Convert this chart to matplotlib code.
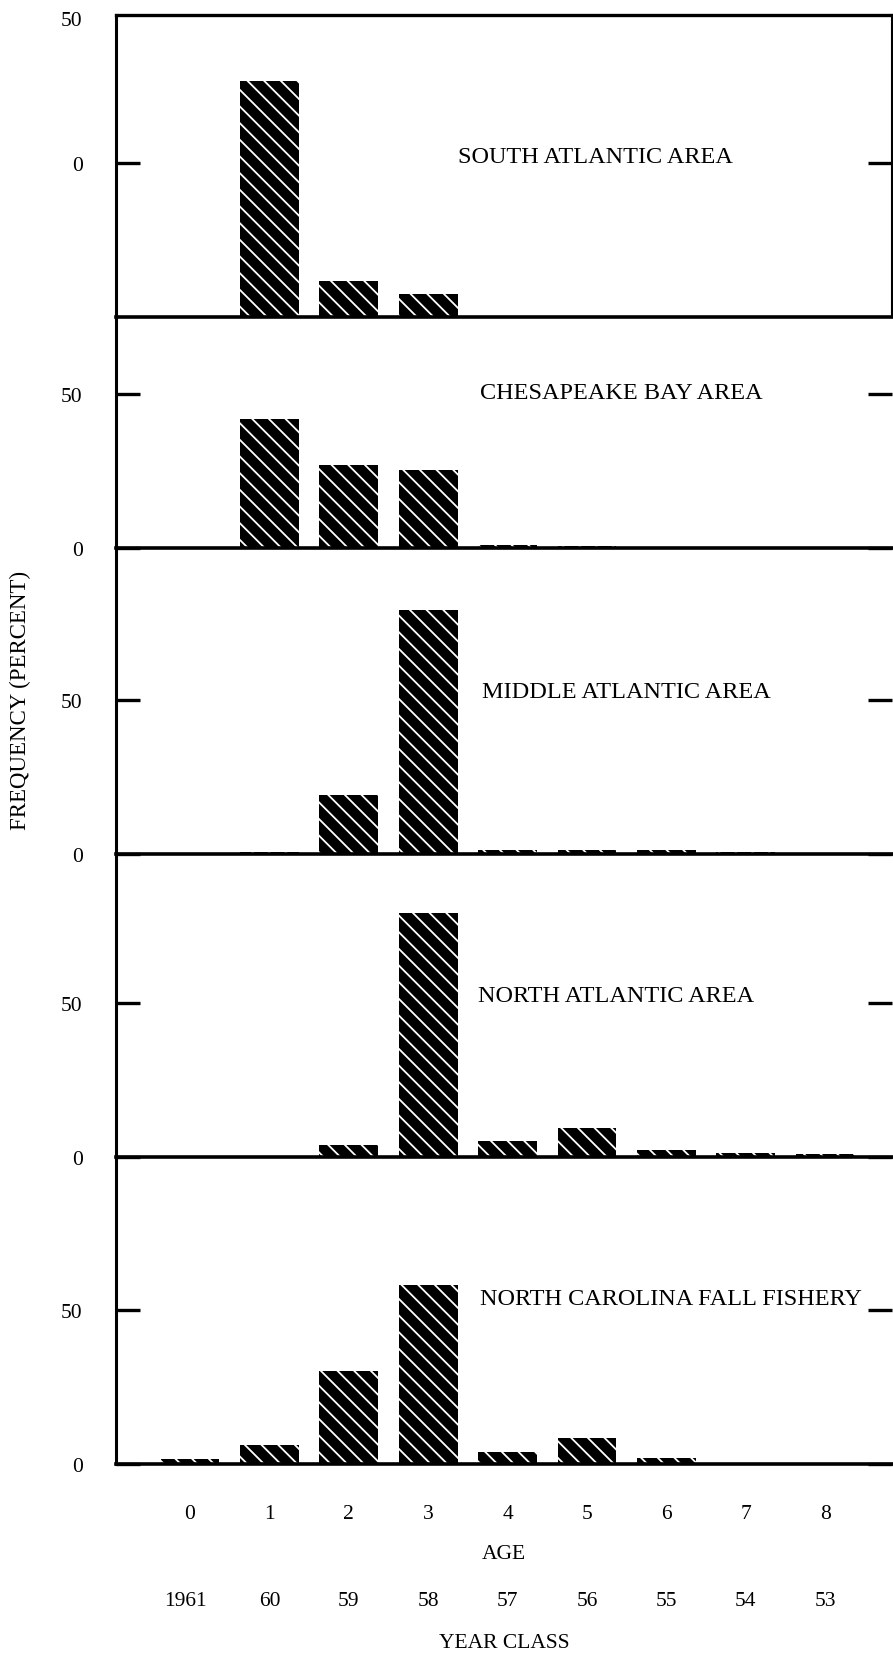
import matplotlib
matplotlib.use("Agg")
import matplotlib.pyplot as plt

# ---------------- data ----------------
ages = [0, 1, 2, 3, 4, 5, 6, 7, 8]
age_labels = ["0", "1", "2", "3", "4", "5", "6", "7", "8"]
year_class_labels = ["1961", "60", "59", "58", "57", "56", "55", "54", "53"]

area_names = ["SOUTH ATLANTIC AREA", "CHESAPEAKE BAY AREA", "MIDDLE ATLANTIC AREA",
              "NORTH ATLANTIC AREA", "NORTH CAROLINA FALL FISHERY"]

south_atlantic = [0, 76.6, 11.7, 7.6, 0, 0, 0, 0, 0]
chesapeake_bay = [0, 42.0, 27.0, 25.3, 1.0, 0.8, 0, 0, 0]
middle_atlantic = [0, 0.8, 19.3, 79.3, 1.2, 1.3, 1.2, 0.7, 0]
north_atlantic = [0, 0, 4.0, 79.2, 5.2, 9.5, 2.3, 1.3, 0.9]
nc_fall_fishery = [1.5, 6.3, 30.3, 58.0, 4.0, 8.3, 2.0, 0, 0]

series = [south_atlantic, chesapeake_bay, middle_atlantic, north_atlantic, nc_fall_fishery]

# y tick values and labels per panel (as printed on the original)
ytick_vals = [[50, 97], [0, 50], [0, 50], [0, 50], [0, 50]]
ytick_texts = [["0", "50"], ["0", "50"], ["0", "50"], ["0", "50"], ["0", "50"]]

# ---------------- layout ----------------
W, H = 893, 1656
plt.rcParams["font.family"] = ["Liberation Serif", "DejaVu Serif"]
plt.rcParams["hatch.linewidth"] = 1.3

fig = plt.figure(figsize=(W / 100, H / 100), dpi=100)

tops = [16, 318, 549, 855, 1158]
bottoms = [318, 549, 855, 1158, 1465]
px_per_unit = 3.08
x_left_px, x_right_px = 116, 892
x0_px, dx_px = 190, 79.4

label_pos = [(3.38, 52), (3.65, 50.6), (3.68, 52.9), (3.63, 52.3), (3.65, 53.6)]

axes = []
for i in range(5):
    t, b = tops[i], bottoms[i]
    ax = fig.add_axes([x_left_px / W, 1 - b / H, (x_right_px - x_left_px) / W, (b - t) / H])
    axes.append(ax)
    ax.set_facecolor("none")
    ax.bar(ages, series[i], width=0.74, color="black", edgecolor="white",
           linewidth=0, hatch="\\\\", zorder=1)
    ax.set_xlim((x_left_px - x0_px) / dx_px, (x_right_px - x0_px) / dx_px)
    ax.set_ylim(0, (b - t) / px_per_unit)

    for s in ["top", "right"]:
        ax.spines[s].set_visible(False)
    ax.spines["left"].set_linewidth(2.2)
    ax.spines["bottom"].set_linewidth(2.6)
    if i == 0:
        ax.spines["top"].set_visible(True)
        ax.spines["top"].set_linewidth(2.4)
        ax.spines["right"].set_visible(True)
        ax.spines["right"].set_linewidth(1.5)

    ax.set_yticks(ytick_vals[i])
    ax.set_yticklabels(ytick_texts[i])
    ax.tick_params(axis="y", which="both", direction="in", length=17, width=2.4,
                   left=True, right=True, labelleft=True, labelright=False,
                   pad=24, labelsize=15.5)
    if i == 0:
        tk = ax.yaxis.get_major_ticks()[1]
        tk.tick1line.set_visible(False)
        tk.tick2line.set_visible(False)

    ax.text(label_pos[i][0], label_pos[i][1], area_names[i], fontsize=17.5,
            ha="left", va="center")

    if i < 4:
        ax.set_xticks([])
    else:
        ax.set_xticks(ages)
        ax.set_xticklabels(age_labels)
        ax.tick_params(axis="x", length=0, pad=29, labelsize=15.5)
        hgt = b - t
        ax.text(0.5, -(1555 - b) / hgt, "AGE", transform=ax.transAxes,
                ha="center", va="center", fontsize=15.5)
        xt = ax.get_xaxis_transform()
        for a, lab in zip(ages, year_class_labels):
            ax.text(a - (0.06 if lab == "1961" else 0), -(1602 - b) / hgt, lab,
                    transform=xt, ha="center", va="center", fontsize=15.5)
        ax.text(0.5, -(1644 - b) / hgt, "YEAR CLASS", transform=ax.transAxes,
                ha="center", va="center", fontsize=15.5)

fig.text(20 / W, 1 - 700 / H, "FREQUENCY (PERCENT)", rotation=90,
         ha="center", va="center", fontsize=16.5)

fig.savefig("out.png", dpi=100, facecolor="white")
